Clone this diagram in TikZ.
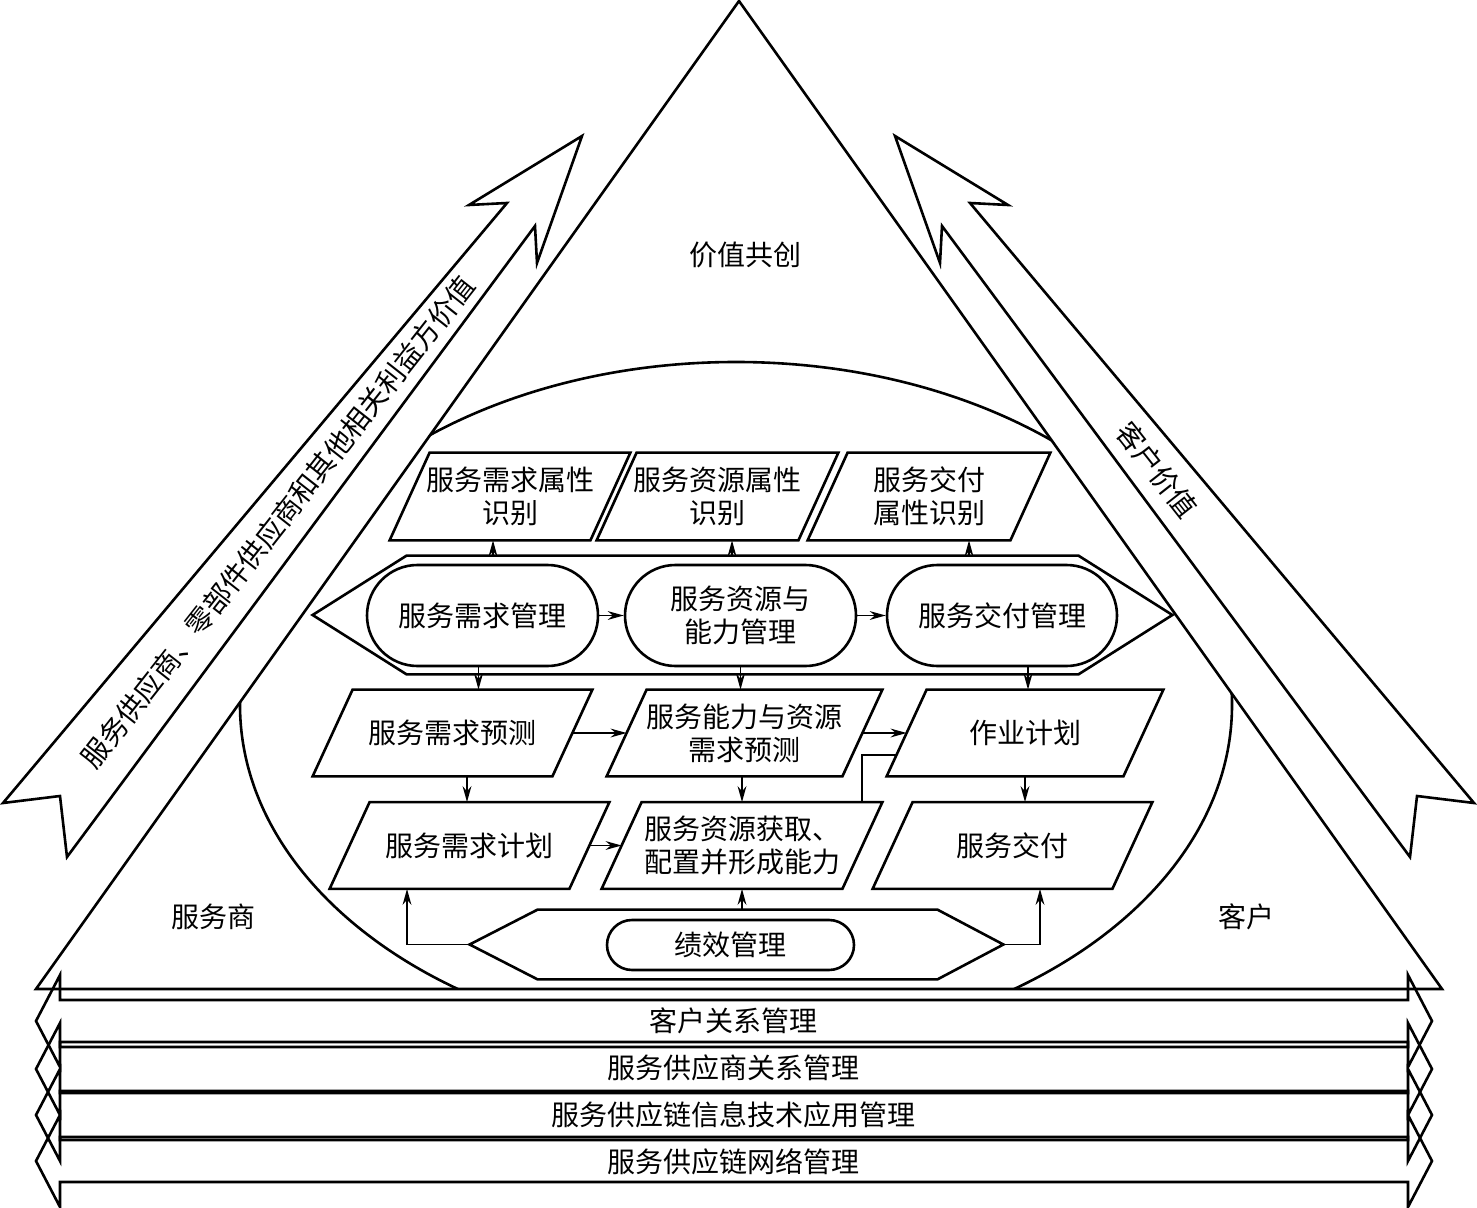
\documentclass[tikz,border=0pt]{standalone}
\usepackage{fontspec}
\newfontfamily\cjk{Noto Sans CJK SC}
\usetikzlibrary{shapes.misc,arrows.meta,calc}
\tikzset{
  mainln/.style={line width=1.3pt, line join=miter},
  arr/.style={line width=0.8pt, -{Stealth[length=8pt,width=4.4pt]}},
  conn/.style={line width=0.8pt},
  txt/.style={font=\cjk\fontsize{14}{16.5}\selectfont, align=center, inner sep=0pt},
  pgbox/.style={txt, minimum height=43pt, minimum width=#1},
  pill/.style={txt, draw, line width=1.3pt, rounded rectangle, minimum height=50.5pt, minimum width=#1},
}
\begin{document}
\begin{tikzpicture}[x=0.5pt,y=-0.5pt]
\useasboundingbox (0,0) rectangle (1477,1208);

% big triangle
\draw[mainln] (739,1) -- (36,989) -- (1442,989) -- cycle;
% ellipse clipped by triangle
\begin{scope}
  \clip (739,1) -- (36,989) -- (1442,989) -- cycle;
  \draw[mainln] (736,705) ellipse [x radius=496, y radius=343];
\end{scope}

% left and right big arrows
\draw[mainln] (3,803) -- (507,203) -- (469,205) -- (582,136) -- (537,263) -- (535,226) -- (67,857) -- (60,796) -- cycle;
\draw[mainln] (1474,803) -- (970,203) -- (1008,205) -- (895,136) -- (940,263) -- (942,226) -- (1410,857) -- (1417,796) -- cycle;

% labels
\node[txt] (v) at (745,255) {价值共创};
\node[txt] (s) at (213,917) {服务商};
\node[txt] (k) at (1246,917) {客户};
\node[txt, rotate=51.8] (lv) at (278,522) {服务供应商、零部件供应商和其他相关利益方价值};
\node[txt, rotate=-51.8] (rv) at (1157,470) {客户价值};

% top row parallelograms
\node[pgbox=100pt, minimum height=43.5pt] (a1) at (510,496.5) {服务需求属性\\识别};
\node[pgbox=100.5pt, minimum height=43.5pt] (a2) at (717.5,496.5) {服务资源属性\\识别};
\node[pgbox=101pt, minimum height=43.5pt] (a3) at (929,496.5) {服务交付\\属性识别};
% second row
\node[pgbox=119.5pt] (b1) at (452.5,733) {服务需求预测};
\node[pgbox=117.5pt] (b2) at (744.5,733) {服务能力与资源\\需求预测};
\node[pgbox=118pt] (b3) at (1025,733) {作业计划};
% third row
\node[pgbox=119.5pt] (c1) at (469.5,845.5) {服务需求计划};
\node[pgbox=120pt] (c2) at (742,845.5) {服务资源获取、\\配置并形成能力};
\node[pgbox=119.5pt] (c3) at (1012.5,845.5) {服务交付};

\foreach \n in {a1,a2,a3,b1,b2,b3,c1,c2,c3}
  \draw[mainln] ([xshift=10pt]\n.north west) -- ([xshift=10pt]\n.north east)
     -- ([xshift=-10pt]\n.south east) -- ([xshift=-10pt]\n.south west) -- cycle;

% hexagon bands
\node[minimum width=429.5pt, minimum height=59pt, inner sep=0pt] (H1) at (742.5,615) {};
\draw[mainln] (H1.west) -- ([xshift=47pt]H1.north west) -- ([xshift=-47pt]H1.north east) -- (H1.east)
   -- ([xshift=-47pt]H1.south east) -- ([xshift=47pt]H1.south west) -- cycle;
\node[minimum width=266.5pt, minimum height=34.5pt, inner sep=0pt] (H2) at (736.5,944.5) {};
\draw[mainln] (H2.west) -- ([xshift=34pt]H2.north west) -- ([xshift=-33pt]H2.north east) -- (H2.east)
   -- ([xshift=-33pt]H2.south east) -- ([xshift=34pt]H2.south west) -- cycle;

% pills
\node[pill=115.5pt] (m1) at (482.5,615.5) {服务需求管理};
\node[pill=115.5pt] (m2) at (740.5,615.5) {服务资源与\\能力管理};
\node[pill=115pt] (m3) at (1002,615.5) {服务交付管理};
\node[pill=123.5pt, minimum height=25pt] (p) at (730.5,945) {绩效管理};

% connectors
\draw[arr] ([xshift=-8.5pt]a1.south |- H1.north) -- ([xshift=-8.5pt]a1.south);
\draw[arr] ([xshift=7.25pt]a2.south |- H1.north) -- ([xshift=7.25pt]a2.south);
\draw[arr] ([xshift=20pt]a3.south |- H1.north) -- ([xshift=20pt]a3.south);
\draw[arr] (m1.east) -- (m2.west);
\draw[arr] (m2.east) -- (m3.west);
\draw[arr] ([xshift=-2pt]m1.south) -- ([xshift=-2pt]m1.south |- b1.north);
\draw[arr] (m2.south) -- (m2.south |- b2.north);
\draw[arr] ([xshift=13pt]m3.south) -- ([xshift=13pt]m3.south |- b3.north);
\draw[arr] (b1.east) -- (b2.west);
\draw[arr] (b2.east) -- (b3.west);
\draw[arr] ([xshift=-1.25pt]c1.north |- b1.south) -- ([xshift=-1.25pt]c1.north);
\draw[arr] (c2.north |- b2.south) -- (c2.north);
\draw[arr] (b3.south) -- (b3.south |- c3.north);
\draw[arr] (c1.east) -- (c2.west);
\draw[conn] ([xshift=60pt]c2.north) |- ([xshift=-5.1pt,yshift=-11pt]b3.west);
\draw[arr] (H2.west) -| ([xshift=-31.25pt]c1.south);
\draw[arr] (H2.east) -| ([xshift=13.75pt]c3.south);
\draw[arr] (c2.south |- H2.north) -- (c2.south);

% bottom double-headed bands
\foreach \t/\b/\c in {1000/1042/1021, 1047/1091/1069, 1093/1137/1115, 1140/1182/1161}
  \draw[mainln] (60,\t) -- (60,{\c-46}) -- (36,\c) -- (60,{\c+46}) -- (60,\b) -- (1408,\b)
     -- (1408,{\c+46}) -- (1432,\c) -- (1408,{\c-46}) -- (1408,\t) -- cycle;
\node[txt] (r1) at (733,1021) {客户关系管理};
\node[txt] (r2) at (733,1068) {服务供应商关系管理};
\node[txt] (r3) at (733,1115) {服务供应链信息技术应用管理};
\node[txt] (r4) at (733,1162) {服务供应链网络管理};
\end{tikzpicture}
\end{document}
